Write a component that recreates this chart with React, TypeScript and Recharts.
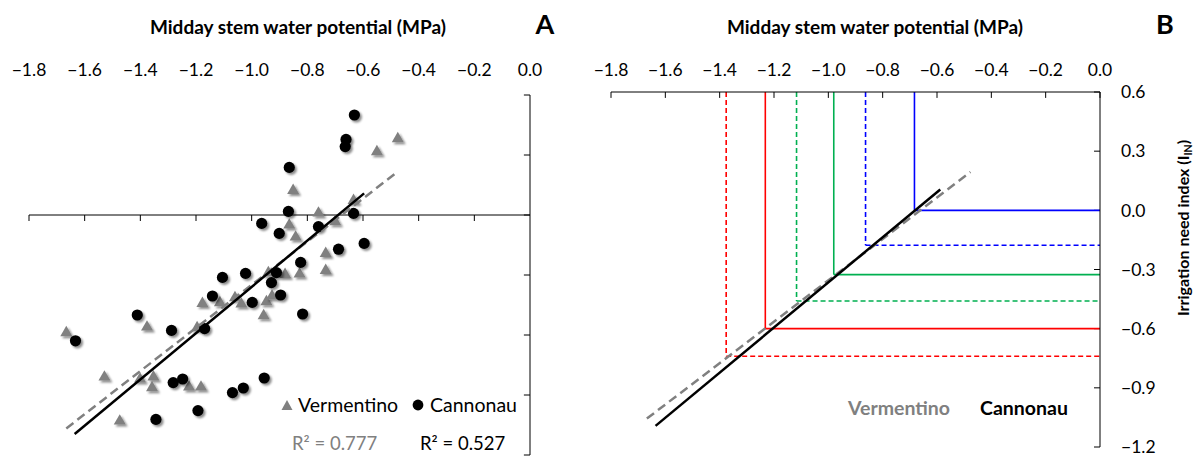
import React from 'react';
import { ScatterChart, Scatter, XAxis, YAxis, ReferenceLine } from 'recharts';

const xTicks = [-1.8, -1.6, -1.4, -1.2, -1.0, -0.8, -0.6, -0.4, -0.2, 0];
const yTicks = [0.6, 0.3, 0, -0.3, -0.6, -0.9, -1.2];

// panel A points
const vermentino = [
  { x: -0.475, y: 0.387 }, { x: -0.55, y: 0.322 }, { x: -0.851, y: 0.128 }, { x: -0.76, y: 0.015 },
  { x: -0.634, y: 0.078 }, { x: -0.7, y: -0.028 }, { x: -0.865, y: -0.045 }, { x: -0.842, y: -0.105 },
  { x: -0.734, y: -0.187 }, { x: -0.734, y: -0.272 }, { x: -0.94, y: -0.283 }, { x: -0.88, y: -0.292 },
  { x: -0.828, y: -0.29 }, { x: -1.666, y: -0.583 }, { x: -1.376, y: -0.555 }, { x: -1.177, y: -0.437 },
  { x: -1.114, y: -0.433 }, { x: -1.06, y: -0.408 }, { x: -1.037, y: -0.44 }, { x: -0.947, y: -0.428 },
  { x: -0.927, y: -0.4 }, { x: -0.957, y: -0.498 }, { x: -1.196, y: -0.558 }, { x: -1.529, y: -0.805 },
  { x: -1.353, y: -0.804 }, { x: -1.358, y: -0.858 }, { x: -1.401, y: -0.815 }, { x: -1.225, y: -0.855 },
  { x: -1.182, y: -0.855 }, { x: -1.474, y: -1.025 },
];

const cannonau = [
  { x: -0.631, y: 0.5 }, { x: -0.661, y: 0.378 }, { x: -0.664, y: 0.342 }, { x: -0.865, y: 0.238 },
  { x: -0.868, y: 0.018 }, { x: -0.634, y: 0.008 }, { x: -0.964, y: -0.042 }, { x: -0.901, y: -0.092 },
  { x: -0.76, y: -0.058 }, { x: -0.688, y: -0.171 }, { x: -0.596, y: -0.142 }, { x: -0.824, y: -0.237 },
  { x: -1.105, y: -0.312 }, { x: -1.022, y: -0.292 }, { x: -0.911, y: -0.288 }, { x: -0.929, y: -0.338 },
  { x: -1.141, y: -0.405 }, { x: -0.998, y: -0.437 }, { x: -0.896, y: -0.4 }, { x: -0.817, y: -0.495 },
  { x: -1.411, y: -0.5 }, { x: -1.288, y: -0.577 }, { x: -1.169, y: -0.568 }, { x: -1.633, y: -0.629 },
  { x: -1.282, y: -0.838 }, { x: -1.248, y: -0.82 }, { x: -1.069, y: -0.888 }, { x: -1.03, y: -0.865 },
  { x: -0.955, y: -0.815 }, { x: -1.193, y: -0.978 }, { x: -1.344, y: -1.022 },
];

// regression lines (end points)
const vermentinoFitA = [{ x: -1.666, y: -1.067 }, { x: -0.475, y: 0.217 }];
const cannonauFitA = [{ x: -1.636, y: -1.095 }, { x: -0.596, y: 0.108 }];
const vermentinoFitB = [{ x: -1.668, y: -1.056 }, { x: -0.477, y: 0.194 }];
const cannonauFitB = [{ x: -1.636, y: -1.093 }, { x: -0.588, y: 0.106 }];

// thresholds in panel B: blue, green, red
const cannonauThr = [{ x: -0.683, y: 0 }, { x: -0.98, y: -0.326 }, { x: -1.232, y: -0.6 }];
const vermentinoThr = [{ x: -0.863, y: -0.177 }, { x: -1.117, y: -0.46 }, { x: -1.376, y: -0.74 }];
const thrColors = ['#0000FF', '#00B050', '#FF0000'];

const FONT = 'Lato, "Open Sans", sans-serif';
const TICK = { fill: '#000', fontSize: 17.5, fontFamily: FONT };
const fmt = (v: number) => (Math.abs(v) < 1e-9 ? '0.0' : v.toFixed(1).replace('-', '\u2212'));

const Tri = (props: any) => {
  const { cx, cy } = props;
  return (
    <polygon
      points={`${cx},${cy - 5.8} ${cx - 6},${cy + 4.6} ${cx + 6},${cy + 4.6}`}
      fill="#808080"
      filter="url(#sh)"
    />
  );
};

const Dot = (props: any) => <circle cx={props.cx} cy={props.cy} r={5.6} fill="#000" filter="url(#sh)" />;

const Nothing = () => <g />;

const txt = (left: number, top: number, extra: React.CSSProperties = {}): React.CSSProperties => ({
  position: 'absolute',
  left,
  top,
  transform: 'translate(0,-50%)',
  whiteSpace: 'nowrap',
  fontFamily: FONT,
  lineHeight: 1,
  ...extra,
});

const centered = (left: number, top: number, extra: React.CSSProperties = {}): React.CSSProperties =>
  txt(left, top, { transform: 'translate(-50%,-50%)', ...extra });

function PanelA() {
  return (
    <ScatterChart width={600} height={456} margin={{ top: 65, right: 70, bottom: 1, left: 29 }} style={{ overflow: 'visible' }}>
      <XAxis
        type="number"
        dataKey="x"
        orientation="top"
        domain={[-1.8, 0]}
        ticks={xTicks}
        interval={0}
        height={30}
        axisLine={false}
        tickLine={false}
        tickSize={0}
        tickMargin={19}
        tick={TICK}
        tickFormatter={fmt}
      />
      <YAxis type="number" dataKey="y" domain={[-1.2, 0.6]} ticks={yTicks} hide />
      <ReferenceLine y={0} stroke="#000" strokeWidth={1} />
      <ReferenceLine x={0} stroke="#000" strokeWidth={1} />
      {xTicks.filter((v) => v < 0).map((v) => (
        <ReferenceLine key={'ax' + v} segment={[{ x: v, y: 0 }, { x: v, y: -0.03 }]} stroke="#000" />
      ))}
      {yTicks.map((v) => (
        <ReferenceLine key={'ay' + v} segment={[{ x: -0.022, y: v }, { x: 0, y: v }]} stroke="#000" />
      ))}
      <Scatter data={vermentino} shape={Tri} isAnimationActive={false} />
      <Scatter data={cannonau} shape={Dot} isAnimationActive={false} />
      <Scatter
        data={vermentinoFitA}
        line={{ stroke: '#808080', strokeWidth: 2.5, strokeDasharray: '9 5' }}
        shape={Nothing}
        isAnimationActive={false}
      />
      <Scatter
        data={cannonauFitA}
        line={{ stroke: '#000', strokeWidth: 2.5 }}
        shape={Nothing}
        isAnimationActive={false}
      />
    </ScatterChart>
  );
}

function PanelB() {
  return (
    <ScatterChart width={621} height={456} margin={{ top: 62, right: 0, bottom: 9, left: 31 }}>
      <XAxis
        type="number"
        dataKey="x"
        orientation="top"
        domain={[-1.8, 0]}
        ticks={xTicks}
        interval={0}
        height={30}
        axisLine={{ stroke: '#000' }}
        tickLine={false}
        tickSize={0}
        tickMargin={16}
        tick={TICK}
        tickFormatter={fmt}
      />
      <YAxis
        type="number"
        dataKey="y"
        orientation="right"
        domain={[-1.2, 0.6]}
        ticks={yTicks}
        interval={0}
        width={101}
        axisLine={{ stroke: '#000' }}
        tickLine={false}
        tickSize={0}
        tickMargin={21}
        tick={{ ...TICK, textAnchor: 'start' }}
        tickFormatter={fmt}
      />
      {xTicks.map((v) => (
        <ReferenceLine key={'bx' + v} segment={[{ x: v, y: 0.6 }, { x: v, y: 0.57 }]} stroke="#000" />
      ))}
      {yTicks.map((v) => (
        <ReferenceLine key={'by' + v} segment={[{ x: -0.022, y: v }, { x: 0, y: v }]} stroke="#000" />
      ))}
      {cannonauThr.map((p, i) => (
        <ReferenceLine key={'cv' + i} segment={[{ x: p.x, y: 0.6 }, { x: p.x, y: p.y }]} stroke={thrColors[i]} strokeWidth={1.6} />
      ))}
      {cannonauThr.map((p, i) => (
        <ReferenceLine key={'ch' + i} segment={[{ x: p.x, y: p.y }, { x: 0, y: p.y }]} stroke={thrColors[i]} strokeWidth={1.6} />
      ))}
      {vermentinoThr.map((p, i) => (
        <ReferenceLine key={'vv' + i} segment={[{ x: p.x, y: 0.6 }, { x: p.x, y: p.y }]} stroke={thrColors[i]} strokeWidth={1.6} strokeDasharray="5 3" />
      ))}
      {vermentinoThr.map((p, i) => (
        <ReferenceLine key={'vh' + i} segment={[{ x: p.x, y: p.y }, { x: 0, y: p.y }]} stroke={thrColors[i]} strokeWidth={1.6} strokeDasharray="5 3" />
      ))}
      <Scatter
        data={vermentinoFitB}
        line={{ stroke: '#808080', strokeWidth: 2.5, strokeDasharray: '9 5' }}
        shape={Nothing}
        isAnimationActive={false}
      />
      <Scatter
        data={cannonauFitB}
        line={{ stroke: '#000', strokeWidth: 2.5 }}
        shape={Nothing}
        isAnimationActive={false}
      />
    </ScatterChart>
  );
}

export default function App() {
  return (
    <div style={{ position: 'absolute', left: 0, top: 0, width: 1201, height: 456, background: '#fff', overflow: 'hidden' }}>
      <svg width={0} height={0} style={{ position: 'absolute' }}>
        <defs>
          <filter id="sh" x="-50%" y="-50%" width="200%" height="200%">
            <feDropShadow dx="2" dy="2" stdDeviation="1.2" floodColor="#000" floodOpacity="0.45" />
          </filter>
        </defs>
      </svg>
      <div style={{ position: 'absolute', left: 0, top: 0 }}>
        <PanelA />
      </div>
      <div style={{ position: 'absolute', left: 580, top: 0 }}>
        <PanelB />
      </div>

      <div style={centered(298, 26, { fontWeight: 700, fontSize: 19 })}>Midday stem water potential (MPa)</div>
      <div style={centered(875, 26, { fontWeight: 700, fontSize: 19 })}>Midday stem water potential (MPa)</div>
      <div style={centered(545, 23, { fontWeight: 700, fontSize: 27 })}>A</div>
      <div style={centered(1165, 23, { fontWeight: 700, fontSize: 27 })}>B</div>

      <svg width={14} height={14} style={{ position: 'absolute', left: 280, top: 398 }}>
        <polygon points="7,2 1.5,12 12.5,12" fill="#808080" />
      </svg>
      <div style={txt(298, 405, { fontSize: 19.5, color: '#000' })}>Vermentino</div>
      <svg width={14} height={14} style={{ position: 'absolute', left: 411, top: 398 }}>
        <circle cx={7} cy={7} r={5.4} fill="#000" />
      </svg>
      <div style={txt(430, 405, { fontSize: 19.5, color: '#000' })}>Cannonau</div>
      <div style={txt(292, 443, { fontSize: 18.5, color: '#808080' })}>R² = 0.777</div>
      <div style={txt(420, 443, { fontSize: 18.5, color: '#000' })}>R² = 0.527</div>

      <div style={txt(848, 408, { fontSize: 19.5, fontWeight: 700, color: '#808080' })}>Vermentino</div>
      <div style={txt(980, 408, { fontSize: 19.5, fontWeight: 700, color: '#000' })}>Cannonau</div>

      <div style={centered(1184, 228, { fontSize: 16, fontWeight: 700, transform: 'translate(-50%,-50%) rotate(-90deg)' })}>
        Irrigation need index (I<sub style={{ fontSize: 10.5, verticalAlign: -3 }}>IN</sub>)
      </div>
    </div>
  );
}
